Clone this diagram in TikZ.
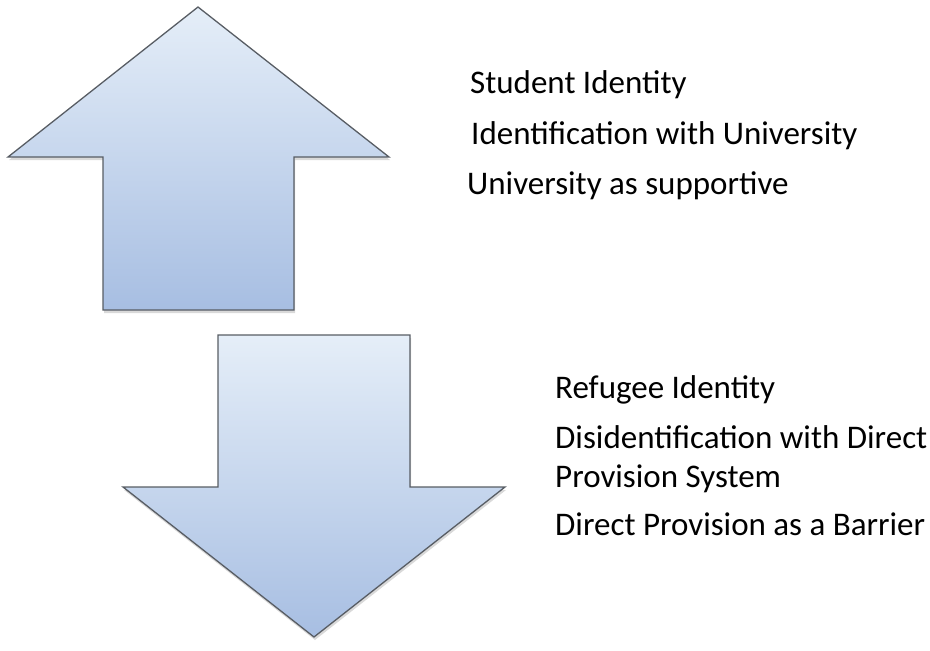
\documentclass[tikz,border=0pt]{standalone}
\usepackage{fontspec}
\setmainfont{Carlito}
\usetikzlibrary{shadows}
\definecolor{arrowtop}{HTML}{E5EEF8}
\definecolor{arrowbot}{HTML}{A7BEE2}
\definecolor{arrowline}{HTML}{585D64}
\tikzstyle{bigarrow} = [
  draw=arrowline,
  line width=1.3pt,
  line join=miter,
  top color=arrowtop,
  bottom color=arrowbot,
  drop shadow={shadow xshift=1pt, shadow yshift=-3pt, opacity=0.3},
]
\tikzstyle{theme} = [
  anchor=base west,
  inner sep=0pt,
  align=left,
  font=\fontsize{33}{39}\selectfont,
]

\begin{document}
\begin{tikzpicture}[x=1pt, y=-1pt]
    \useasboundingbox (0,0) rectangle (930,651);

    % Arrows
    \draw[bigarrow] (198,7) -- (389,157) -- (294,157) -- (294,310)
        -- (103,310) -- (103,157) -- (8,157) -- cycle;
    \draw[bigarrow] (218,335) -- (410,335) -- (410,487) -- (505,487)
        -- (314,637) -- (123,487) -- (218,487) -- cycle;

    % Labels
    \node[theme] (student) at (470,93) {Student Identity};
    \node[theme] (identuni) at (471,144) {Identification with University};
    \node[theme] (supportive) at (467,194) {University as supportive};

    \node[theme] (refugee) at (555,398) {Refugee Identity};
    \node[theme] (disident) at (555,487) {Disidentification with Direct\\Provision System};
    \node[theme] (barrier) at (555,535) {Direct Provision as a Barrier};
\end{tikzpicture}
\end{document}
